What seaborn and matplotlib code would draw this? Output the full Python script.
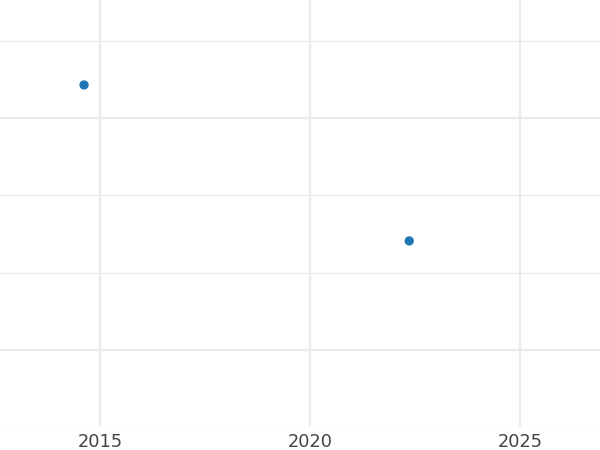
import matplotlib
matplotlib.use("Agg")
import matplotlib.pyplot as plt
import seaborn as sns
import pandas as pd
from matplotlib.ticker import MultipleLocator

# Data (y has no labels, scale is relative)
years = [2014.62, 2022.36]
values = [34.3, 14.1]
x_ticks = [2015, 2020, 2025]

df = pd.DataFrame({"year": years, "value": values})

sns.set_theme(style="white")
fig = plt.figure(figsize=(6, 4.5), dpi=100)
ax = fig.add_axes([0, 0.051, 1, 0.949])

sns.scatterplot(data=df, x="year", y="value", ax=ax, color="#1f77b4",
                s=45, edgecolor="none", zorder=3)

ax.set_xlim(2012.62, 2026.9)
ax.set_ylim(-10, 45.3)
ax.set_xticks(x_ticks)
ax.set_xticklabels([str(t) for t in x_ticks])
ax.yaxis.set_major_locator(MultipleLocator(30))
ax.yaxis.set_minor_locator(MultipleLocator(10))
ax.set_yticklabels([])

# Grid: heavier major lines, lighter minor lines
ax.grid(which="major", axis="both", color="#ebebeb", linewidth=1.6)
ax.grid(which="minor", axis="y", color="#ebebeb", linewidth=0.8)
ax.set_axisbelow(True)

ax.tick_params(axis="x", length=0, pad=4.5, labelsize=12.8, labelcolor="#444444")
ax.tick_params(axis="y", which="both", length=0)
ax.set_xlabel("")
ax.set_ylabel("")
for s in ax.spines.values():
    s.set_visible(False)

fig.savefig("out.png", dpi=100)
